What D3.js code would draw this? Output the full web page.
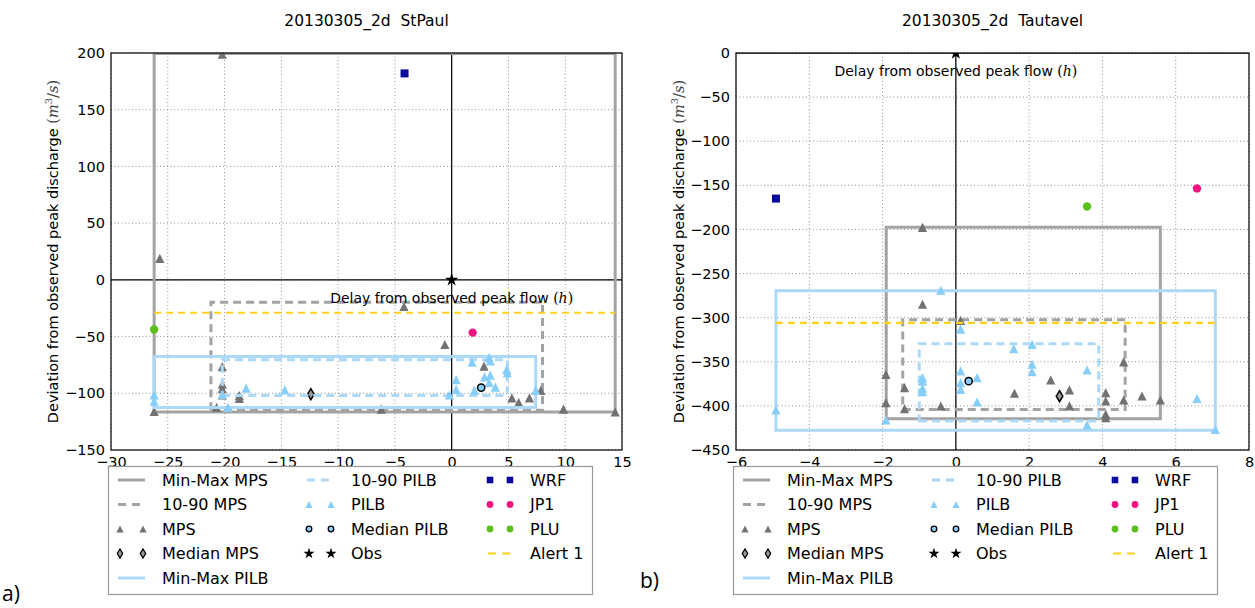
<!DOCTYPE html>
<html>
<head>
<meta charset="utf-8">
<script src="https://cdn.jsdelivr.net/npm/d3@7"></script>
<style>
* { margin: 0; padding: 0; }
body { background: #fff; }
svg { font-family: "DejaVu Sans", sans-serif; }
</style>
</head>
<body>
<svg width="1255" height="608"></svg>
<script>
// ---------- panel a) StPaul ----------
const stpTitle = "20130305_2d  StPaul";
const stpXTicks = [-30, -25, -20, -15, -10, -5, 0, 5, 10, 15];
const stpYTicks = [-150, -100, -50, 0, 50, 100, 150, 200];
const stpMpsMinMaxX = [-26.2, 14.4];
const stpMpsMinMaxY = [-116.5, 199.5];
const stpMps1090X = [-21.2, 8.0];
const stpMps1090Y = [-115, -19.8];
const stpPilbMinMaxX = [-26.2, 7.4];
const stpPilbMinMaxY = [-112.5, -67.5];
const stpPilb1090X = [-20.2, 4.9];
const stpPilb1090Y = [-102, -70.5];
const stpMpsX = [-20.2, -25.7, -4.2, -0.6, -20.2, -20.2, -20.2, -20.2, -18.7, -18.7, -20.7, 2.85, 5.3, 5.9, 6.85, 7.85, 9.85, 14.4, -26.2, -6.2];
const stpMpsY = [199, 19, -23.5, -57, -76.5, -92, -96, -101.5, -102, -104.5, -112.5, -76, -104, -108, -104, -97.5, -114, -116.5, -116, -114];
const stpPilbX = [-26.2, -26.2, -19.7, -18.1, -20.2, -14.7, 1.8, 3.3, 3.4, 0.4, 0.4, -0.2, 2.0, 2.9, 3.4, 3.3, 3.85, 4.85, 4.9, 7.4];
const stpPilbY = [-101.5, -107, -112.5, -95.5, -101, -97, -72.5, -68.5, -71.5, -88, -96.5, -101.5, -97.5, -85.5, -84, -90.5, -94.5, -79, -82, -97.5];
const stpMedMps = [-12.4, -100.8];
const stpMedPilb = [2.6, -95];
const stpObs = [0, 0];
const stpWrf = [-4.15, 182];
const stpJp1 = [1.85, -46.5];
const stpPlu = [-26.2, -43.8];
const stpAlert = -29;

// ---------- panel b) Tautavel ----------
const tauTitle = "20130305_2d  Tautavel";
const tauXTicks = [-6, -4, -2, 0, 2, 4, 6, 8];
const tauYTicks = [-450, -400, -350, -300, -250, -200, -150, -100, -50, 0];
const tauMpsMinMaxX = [-1.9, 5.58];
const tauMpsMinMaxY = [-414.5, -197.5];
const tauMps1090X = [-1.45, 4.62];
const tauMps1090Y = [-404, -302.5];
const tauPilbMinMaxX = [-4.91, 7.08];
const tauPilbMinMaxY = [-427.5, -269.5];
const tauPilb1090X = [-1.0, 3.9];
const tauPilb1090Y = [-417, -329.5];
const tauMpsX = [-0.91, -0.91, 0.13, -1.91, -1.91, -1.4, -1.4, -0.41, 1.6, 2.59, 3.1, 3.1, 4.09, 4.09, 4.09, 4.09, 4.58, 4.58, 5.08, 5.58];
const tauMpsY = [-197.6, -284.8, -303, -364.2, -396.3, -379.3, -403.1, -400.1, -385.7, -370.6, -381.9, -400, -385, -394.4, -409.5, -413.3, -350.2, -393.3, -388.8, -393.3];
const tauPilbX = [-0.41, 0.13, -4.91, -1.91, -0.91, -0.91, -0.91, -0.91, 0.13, 0.13, 0.13, 0.58, 0.58, 1.58, 2.08, 2.08, 2.08, 3.58, 3.58, 6.58, 7.08];
const tauPilbY = [-268.9, -313.1, -404.6, -416, -368, -372, -380, -384, -360.4, -373.6, -381.2, -368, -395.6, -335, -330.2, -352.8, -361.2, -359.3, -421.6, -391.4, -426.6];
const tauMedMps = [2.83, -389];
const tauMedPilb = [0.35, -372];
const tauObs = [0, 0];
const tauWrf = [-4.91, -165];
const tauJp1 = [6.58, -153.5];
const tauPlu = [3.58, -174];
const tauAlert = -306;

const legendLabels = [
  ["Min-Max MPS", "10-90 MPS", "MPS", "Median MPS", "Min-Max PILB"],
  ["10-90 PILB", "PILB", "Median PILB", "Obs"],
  ["WRF", "JP1", "PLU", "Alert 1"]
];

// ---------- styles ----------
const GRAY_LINE = "#a3a3a3", GRAY_MARK = "#727272";
const BLUE_LINE = "#acd9f8", BLUE_MARK = "#87cefa";
const WRF_C = "#0a0a9c", JP1_C = "#f5147f", PLU_C = "#5cbf1c", ALERT_C = "#ffd11a";

const tri = r => `M0,${-r}L${r},${r}L${-r},${r}Z`;
const dia = r => `M0,${-r}L${r * 0.6},0L0,${r}L${-r * 0.6},0Z`;
const sq = r => `M${-r},${-r}H${r}V${r}H${-r}Z`;
const star = s => d3.symbol(d3.symbolStar, s)();

const svg = d3.select("svg");
const defs = svg.append("defs");

function marker(g, path, px, py, fill, stroke, sw) {
  g.append("path").attr("d", path)
    .attr("transform", `translate(${px},${py})`)
    .attr("fill", fill)
    .attr("stroke", stroke || "none")
    .attr("stroke-width", sw || 0);
}

function circ(g, px, py, r, fill, stroke, sw) {
  g.append("circle").attr("cx", px).attr("cy", py).attr("r", r)
    .attr("fill", fill).attr("stroke", stroke || "none").attr("stroke-width", sw || 0);
}

function drawPanel(p) {
  const x = d3.scaleLinear().domain(p.xDomain).range([p.left, p.right]);
  const y = d3.scaleLinear().domain(p.yDomain).range([p.bottom, p.top]);

  defs.append("clipPath").attr("id", "clip-" + p.id)
    .append("rect").attr("x", p.left).attr("y", p.top)
    .attr("width", p.right - p.left).attr("height", p.bottom - p.top);

  // title
  svg.append("text").attr("x", (p.left + p.right) / 2).attr("y", 26)
    .attr("text-anchor", "middle").attr("font-size", 15.5)
    .style("white-space", "pre").text(p.title);

  // grid
  const grid = svg.append("g").attr("stroke", "#777").attr("stroke-width", 0.8)
    .attr("stroke-dasharray", "1,2.5");
  grid.selectAll(".gx").data(p.xTicks).join("line")
    .attr("x1", d => x(d)).attr("x2", d => x(d)).attr("y1", p.top).attr("y2", p.bottom);
  grid.selectAll(".gy").data(p.yTicks).join("line")
    .attr("x1", p.left).attr("x2", p.right).attr("y1", d => y(d)).attr("y2", d => y(d));

  // axes
  const ax = svg.append("g").attr("transform", `translate(0,${p.bottom})`)
    .call(d3.axisBottom(x).tickValues(p.xTicks).tickSize(0).tickPadding(7).tickFormat(d3.format("d")));
  const ay = svg.append("g").attr("transform", `translate(${p.left},0)`)
    .call(d3.axisLeft(y).tickValues(p.yTicks).tickSize(0).tickPadding(6).tickFormat(d3.format("d")));
  [ax, ay].forEach(a => {
    a.select(".domain").remove();
    a.selectAll("text").attr("font-size", 14.5).attr("font-family", "DejaVu Sans").attr("fill", "#000");
  });

  const g = svg.append("g").attr("clip-path", `url(#clip-${p.id})`);

  // zero lines
  g.append("line").attr("x1", p.left).attr("x2", p.right).attr("y1", y(0)).attr("y2", y(0))
    .attr("stroke", "#000").attr("stroke-width", 1.2);
  g.append("line").attr("x1", x(0)).attr("x2", x(0)).attr("y1", p.top).attr("y2", p.bottom)
    .attr("stroke", "#000").attr("stroke-width", 1.2);

  const rect = (xs, ys) => `M${x(xs[0])},${y(ys[0])}H${x(xs[1])}V${y(ys[1])}H${x(xs[0])}Z`;

  g.append("path").attr("d", rect(p.mpsMinMaxX, p.mpsMinMaxY))
    .attr("fill", "none").attr("stroke", GRAY_LINE).attr("stroke-width", 3);
  g.append("path").attr("d", rect(p.mps1090X, p.mps1090Y))
    .attr("fill", "none").attr("stroke", GRAY_LINE).attr("stroke-width", 3).attr("stroke-dasharray", "8,5");
  p.mpsX.forEach((v, i) => marker(g, tri(4.6), x(v), y(p.mpsY[i]), GRAY_MARK));
  marker(g, dia(5.5), x(p.medMps[0]), y(p.medMps[1]), "#999", "#000", 1.5);

  g.append("path").attr("d", rect(p.pilbMinMaxX, p.pilbMinMaxY))
    .attr("fill", "none").attr("stroke", BLUE_LINE).attr("stroke-width", 3);
  g.append("path").attr("d", rect(p.pilb1090X, p.pilb1090Y))
    .attr("fill", "none").attr("stroke", BLUE_LINE).attr("stroke-width", 3).attr("stroke-dasharray", "8,5");
  p.pilbX.forEach((v, i) => marker(g, tri(4.6), x(v), y(p.pilbY[i]), BLUE_MARK));
  circ(g, x(p.medPilb[0]), y(p.medPilb[1]), 3.6, BLUE_MARK, "#000", 1.5);

  marker(g, star(55), x(p.obs[0]), y(p.obs[1]), "#000");
  marker(g, sq(4), x(p.wrf[0]), y(p.wrf[1]), WRF_C);
  circ(g, x(p.jp1[0]), y(p.jp1[1]), 4.2, JP1_C);
  circ(g, x(p.plu[0]), y(p.plu[1]), 4.2, PLU_C);

  const allX = p.mpsX.concat(p.pilbX);
  g.append("line").attr("x1", x(d3.min(allX))).attr("x2", x(d3.max(allX)))
    .attr("y1", y(p.alert)).attr("y2", y(p.alert))
    .attr("stroke", ALERT_C).attr("stroke-width", 2.2).attr("stroke-dasharray", "7,5");

  // frame
  svg.append("rect").attr("x", p.left).attr("y", p.top)
    .attr("width", p.right - p.left).attr("height", p.bottom - p.top)
    .attr("fill", "none").attr("stroke", "#000").attr("stroke-width", 1.2);

  // x label at zero line
  const xl = svg.append("text").attr("x", x(0)).attr("y", y(0) + 23)
    .attr("text-anchor", "middle").attr("font-size", 14);
  xl.append("tspan").text("Delay from observed peak flow ");
  xl.append("tspan").attr("font-family", "DejaVu Serif").text("(");
  xl.append("tspan").attr("font-family", "DejaVu Serif").attr("font-style", "italic").text("h");
  xl.append("tspan").attr("font-family", "DejaVu Serif").text(")");

  // y label
  const cy = (p.top + p.bottom) / 2;
  const yl = svg.append("text").attr("transform", `translate(${p.ylabX},${cy}) rotate(-90)`)
    .attr("text-anchor", "middle").attr("font-size", 14.5);
  yl.append("tspan").text("Deviation from observed peak discharge ");
  yl.append("tspan").attr("font-family", "DejaVu Serif").attr("fill", "#444").text("(");
  yl.append("tspan").attr("font-family", "DejaVu Serif").attr("font-style", "italic").attr("fill", "#444").text("m");
  yl.append("tspan").attr("font-family", "DejaVu Serif").attr("font-size", 10).attr("dy", -6).attr("fill", "#444").text("3");
  yl.append("tspan").attr("font-family", "DejaVu Serif").attr("dy", 6).attr("fill", "#444").text("/");
  yl.append("tspan").attr("font-family", "DejaVu Serif").attr("font-style", "italic").attr("fill", "#444").text("s");
  yl.append("tspan").attr("font-family", "DejaVu Serif").attr("fill", "#444").text(")");

  drawLegend(p.legX, 466);

  svg.append("text").attr("x", p.tagX).attr("y", p.tagY)
    .attr("font-family", "Open Sans, Liberation Sans").attr("font-size", 21).text(p.tag);
}

function drawLegend(lx, ly) {
  const lg = svg.append("g").attr("transform", `translate(${lx},${ly})`);
  lg.append("rect").attr("x", 0.5).attr("y", 0.5).attr("width", 484).attr("height", 128)
    .attr("fill", "#fff").attr("stroke", "#999").attr("stroke-width", 1.2);
  const cols = [[10, 37, 54], [199, 225, 243], [380, 404, 422]];
  const rowY = r => 14 + r * 24.5;
  const handles = [
    [{ t: "line", c: GRAY_LINE }, { t: "line", c: GRAY_LINE, dash: "8,6" }, { t: "tri", c: GRAY_MARK }, { t: "dia" }, { t: "line", c: BLUE_LINE }],
    [{ t: "line", c: BLUE_LINE, dash: "8,6" }, { t: "tri", c: BLUE_MARK }, { t: "circ" }, { t: "star" }],
    [{ t: "sq" }, { t: "dot", c: JP1_C }, { t: "dot", c: PLU_C }, { t: "line", c: ALERT_C, dash: "8,6", w: 2 }]
  ];
  legendLabels.forEach((labels, ci) => {
    const [h0, h1, tx] = cols[ci];
    labels.forEach((lab, ri) => {
      const yy = rowY(ri);
      const h = handles[ci][ri];
      if (h.t === "line") {
        lg.append("line").attr("x1", h0).attr("x2", h1).attr("y1", yy).attr("y2", yy)
          .attr("stroke", h.c).attr("stroke-width", h.w || 3).attr("stroke-dasharray", h.dash || null);
      } else {
        [h0 + 2, h1 - 2].forEach(mx => {
          if (h.t === "tri") marker(lg, tri(3.6), mx, yy, h.c);
          if (h.t === "dia") marker(lg, dia(4.5), mx, yy, "#999", "#000", 1.3);
          if (h.t === "circ") circ(lg, mx, yy, 2.8, BLUE_MARK, "#000", 1.3);
          if (h.t === "star") marker(lg, star(38), mx, yy, "#000");
          if (h.t === "sq") marker(lg, sq(3.3), mx, yy, WRF_C);
          if (h.t === "dot") circ(lg, mx, yy, 3.4, h.c);
        });
      }
      lg.append("text").attr("x", tx).attr("y", yy + 5.8).attr("font-size", 16).text(lab);
    });
  });
}

drawPanel({
  id: "a", title: stpTitle, left: 111, right: 622, top: 53, bottom: 450,
  xDomain: [-30, 15], yDomain: [-150, 200], xTicks: stpXTicks, yTicks: stpYTicks,
  mpsMinMaxX: stpMpsMinMaxX, mpsMinMaxY: stpMpsMinMaxY, mps1090X: stpMps1090X, mps1090Y: stpMps1090Y,
  pilbMinMaxX: stpPilbMinMaxX, pilbMinMaxY: stpPilbMinMaxY, pilb1090X: stpPilb1090X, pilb1090Y: stpPilb1090Y,
  mpsX: stpMpsX, mpsY: stpMpsY, pilbX: stpPilbX, pilbY: stpPilbY,
  medMps: stpMedMps, medPilb: stpMedPilb, obs: stpObs, wrf: stpWrf, jp1: stpJp1, plu: stpPlu, alert: stpAlert,
  ylabX: 58, legX: 108, tag: "a)", tagX: 2, tagY: 601
});

drawPanel({
  id: "b", title: tauTitle, left: 736, right: 1249, top: 53, bottom: 450,
  xDomain: [-6, 8], yDomain: [-450, 0], xTicks: tauXTicks, yTicks: tauYTicks,
  mpsMinMaxX: tauMpsMinMaxX, mpsMinMaxY: tauMpsMinMaxY, mps1090X: tauMps1090X, mps1090Y: tauMps1090Y,
  pilbMinMaxX: tauPilbMinMaxX, pilbMinMaxY: tauPilbMinMaxY, pilb1090X: tauPilb1090X, pilb1090Y: tauPilb1090Y,
  mpsX: tauMpsX, mpsY: tauMpsY, pilbX: tauPilbX, pilbY: tauPilbY,
  medMps: tauMedMps, medPilb: tauMedPilb, obs: tauObs, wrf: tauWrf, jp1: tauJp1, plu: tauPlu, alert: tauAlert,
  ylabX: 684, legX: 733, tag: "b)", tagX: 640, tagY: 588
});
</script>
</body>
</html>
